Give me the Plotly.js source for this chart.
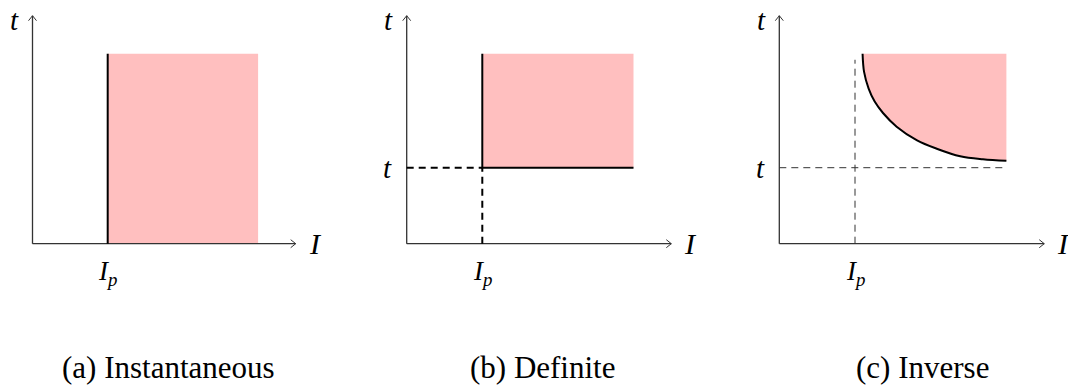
<!DOCTYPE html>
<html>
<head>
<meta charset="utf-8">
<script src="https://cdn.plot.ly/plotly-3.0.1.min.js"></script>
<style>
  html, body { margin: 0; padding: 0; background: #fff; }
  #chart { width: 1068px; height: 387px; }
</style>
</head>
<body>
<div id="chart"></div>
<script>
// Relay tripping characteristics: time t against current I.
const panelCaptions = ['(a) Instantaneous', '(b) Definite', '(c) Inverse'];
const pickupCurrent = 1;      // I_p
const definiteTime = 1;       // t (definite / asymptotic level)
const regionTop = 2.5;        // upper edge of the trip region
const regionRight = 3;        // right edge of the trip region
const axisEndI = 3.5;         // arrow tip of the I axis
const axisEndT = 3;           // arrow tip of the t axis
const inverseGuideTop = 2.42; // top of the dashed I_p guide in (c)

// Inverse-time curve samples (I, t)
const inverseI = [1.10, 1.12, 1.18, 1.26, 1.37, 1.55, 1.82, 2.08, 2.39, 2.69, 3.00];
const inverseT = [2.50, 2.26, 2.04, 1.87, 1.72, 1.54, 1.36, 1.25, 1.15, 1.11, 1.09];

// Page geometry of each panel: pixel of the origin and pixels per unit
const W = 1068, H = 387;
const originPx = [32.5, 406.7, 779.3];
const unitX = [75.2, 75.6, 75.7];
const originYpx = 243.7;
const unitY = 76;
const xr = [-0.4, 3.75];
const yr = [-0.4, 3.2];

const fillColor = '#ffbfbf';
const axisColor = '#333333';
const serif = 'Liberation Serif';
const mathFont = {family: serif, size: 29, color: '#000'};

const traces = [];
const layout = {
  width: W, height: H,
  margin: {l: 0, r: 0, t: 0, b: 0},
  paper_bgcolor: '#fff', plot_bgcolor: 'rgba(0,0,0,0)',
  showlegend: false,
  annotations: []
};

function seg(ax, xs, ys, opts) {
  traces.push(Object.assign({
    type: 'scatter', mode: 'lines', x: xs, y: ys,
    xaxis: 'x' + ax.n, yaxis: 'y' + ax.n,
    hoverinfo: 'skip',
    line: {color: '#000', width: 2}
  }, opts));
}

// labels placed in page pixels from data coordinates of a panel
function label(p, x, y, text, font) {
  const px = originPx[p] + x * unitX[p];
  const py = originYpx - y * unitY;
  layout.annotations.push({
    xref: 'paper', yref: 'paper', x: px / W, y: (H - py) / H,
    text: text, showarrow: false, font: font,
    xanchor: 'center', yanchor: 'middle'
  });
}

for (let p = 0; p < 3; p++) {
  const n = p === 0 ? '' : String(p + 1);
  const ax = {n: n};
  const x0 = originPx[p], ux = unitX[p];
  const yBottom = H - originYpx;
  layout['xaxis' + n] = {
    visible: false, range: xr, fixedrange: true,
    anchor: 'y' + n,
    domain: [(x0 + xr[0] * ux) / W, (x0 + xr[1] * ux) / W]
  };
  layout['yaxis' + n] = {
    visible: false, range: yr, fixedrange: true,
    anchor: 'x' + n,
    domain: [(yBottom + yr[0] * unitY) / H, (yBottom + yr[1] * unitY) / H]
  };

  // trip region
  if (p === 0) {
    traces.push({type: 'scatter', mode: 'lines', xaxis: 'x' + n, yaxis: 'y' + n,
      x: [pickupCurrent, regionRight, regionRight, pickupCurrent],
      y: [0, 0, regionTop, regionTop],
      fill: 'toself', fillcolor: fillColor, line: {width: 0}, hoverinfo: 'skip'});
  } else if (p === 1) {
    traces.push({type: 'scatter', mode: 'lines', xaxis: 'x' + n, yaxis: 'y' + n,
      x: [pickupCurrent, regionRight, regionRight, pickupCurrent],
      y: [definiteTime, definiteTime, regionTop, regionTop],
      fill: 'toself', fillcolor: fillColor, line: {width: 0}, hoverinfo: 'skip'});
  } else {
    // top edge, then the curve filled up to it
    traces.push({type: 'scatter', mode: 'lines', xaxis: 'x' + n, yaxis: 'y' + n,
      x: [inverseI[0], regionRight], y: [regionTop, regionTop],
      line: {width: 0}, hoverinfo: 'skip'});
    traces.push({type: 'scatter', mode: 'lines', xaxis: 'x' + n, yaxis: 'y' + n,
      x: inverseI, y: inverseT,
      fill: 'tonexty', fillcolor: fillColor,
      line: {width: 0, shape: 'spline'}, hoverinfo: 'skip'});
  }

  // axes with open arrow heads
  const hx = 5 / ux, hy = 4 / unitY;     // head length / half-width (I axis)
  const vx = 4 / ux, vy = 5 / unitY;     // head half-width / length (t axis)
  const axisLine = {color: axisColor, width: 1.3};
  seg(ax, [0, axisEndI], [0, 0], {line: axisLine});
  seg(ax, [0, 0], [0, axisEndT], {line: axisLine});
  seg(ax, [axisEndI - hx, axisEndI, axisEndI - hx], [hy, 0, -hy], {line: {color: axisColor, width: 1}});
  seg(ax, [-vx, 0, vx], [axisEndT - vy, axisEndT, axisEndT - vy], {line: {color: axisColor, width: 1}});

  // characteristic lines
  if (p === 0) {
    seg(ax, [pickupCurrent, pickupCurrent], [0, regionTop]);
  } else if (p === 1) {
    const dash = {color: '#000', width: 2, dash: '7px,5px'};
    seg(ax, [0, pickupCurrent], [definiteTime, definiteTime], {line: dash});
    seg(ax, [pickupCurrent, pickupCurrent], [0, definiteTime], {line: dash});
    seg(ax, [pickupCurrent, pickupCurrent, regionRight], [regionTop, definiteTime, definiteTime]);
  } else {
    const dash = {color: '#333', width: 1, dash: '7px,5px'};
    seg(ax, [pickupCurrent, pickupCurrent], [0, inverseGuideTop], {line: dash});
    seg(ax, [0, regionRight], [definiteTime, definiteTime], {line: dash});
    seg(ax, inverseI, inverseT, {line: {color: '#000', width: 2, shape: 'spline'}});
  }

  // labels
  label(p, -0.24, 2.94, '<i>t</i>', mathFont);
  label(p, 3.76, 0.0, '<i>I</i>', {family: serif, size: 30, color: '#000'});
  label(p, pickupCurrent, -0.38, '<i>I</i><sub><i>p</i></sub>', {family: serif, size: 27, color: '#000'});
  if (p > 0) label(p, -0.25, definiteTime, '<i>t</i>', mathFont);
}

// captions
const captionX = [168, 542, 922];
panelCaptions.forEach((c, i) => {
  layout.annotations.push({
    xref: 'paper', yref: 'paper', x: captionX[i] / W, y: (H - 367) / H,
    text: c, showarrow: false, xanchor: 'center', yanchor: 'middle',
    font: {family: serif, size: 31, color: '#000'}
  });
});

Plotly.newPlot('chart', traces, layout, {staticPlot: true, displayModeBar: false});
</script>
</body>
</html>
